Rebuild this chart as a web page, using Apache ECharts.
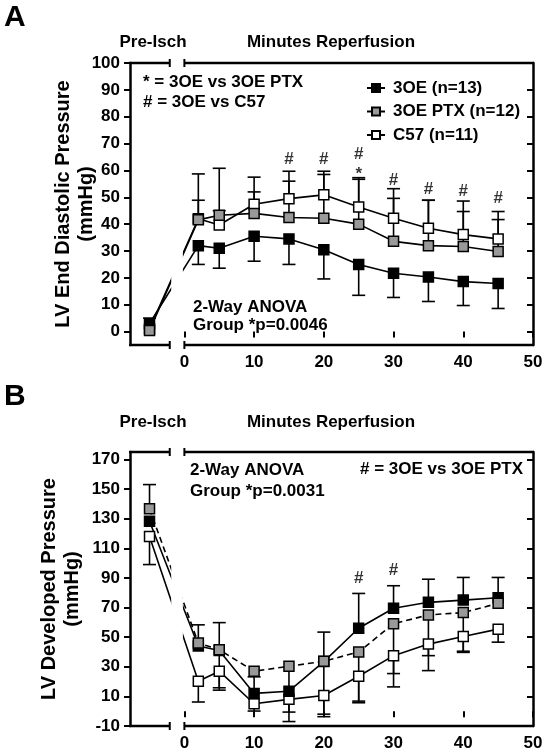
<!DOCTYPE html>
<html><head><meta charset="utf-8">
<script src="https://cdn.jsdelivr.net/npm/echarts@6/dist/echarts.min.js"></script>
<style>html,body{margin:0;padding:0;background:#fff}#c{width:548px;height:755px}</style>
</head><body><div id="c"></div>
<script>
// ---------- data ----------
// x positions: the Pre-Isch baseline is plotted at -5, then minutes of reperfusion
const timePoints = [-5, 2, 5, 10, 15, 20, 25, 30, 35, 40, 45];
const xTickVals = [0, 10, 20, 30, 40, 50];
const xTopTicks = [10, 20, 30, 40];

// Panel A: LV End Diastolic Pressure (mmHg)
const seriesNames = ['3OE (n=13)', '3OE PTX (n=12)', 'C57 (n=11)'];
const edp3OE    = [3, 32, 31, 35.5, 34.5, 30.5, 25, 21.7, 20.3, 18.6, 17.9];
const edp3OEPTX = [0.4, 41.6, 43.3, 44, 42.5, 42.2, 40, 33.6, 32, 31.7, 29.8];
const edpC57    = [1, 42, 39.7, 47.4, 49.5, 50.9, 46.4, 42.2, 38.5, 36.1, 34.5];
const edp3OELow     = [null, 25, 23.6, 26.2, 25, 19.6, 13.5, 12.7, 11.2, 9.7, 8.6];
const edp3OEHigh    = [5, null, null, null, null, null, null, null, null, null, null];
const edp3OEPTXHigh = [null, 58.7, 60.8, 57.5, 56.0, 58.5, 56.7, 49.6, 48.9, 44.7, 41.7];
const edpC57High    = [null, 48.9, 45, 52, 59.7, 59.7, 57.3, 53.2, 48.9, 48.6, 44.7];
const edpTicks = [0, 10, 20, 30, 40, 50, 60, 70, 80, 90, 100];
const edpAnnotX = [15, 20, 25, 25, 30, 35, 40, 45];
const edpAnnotY = [64, 64, 66, 58.4, 56.3, 53, 52.3, 49.5];
const edpAnnotT = ['#', '#', '#', '*', '#', '#', '#', '#'];

// Panel B: LV Developed Pressure (mmHg)
const dp3OE    = [128.3, 44, 41, 12, 13.5, 33.5, 56, 69.5, 73.5, 75, 76.6];
const dp3OEPTX = [136.6, 46, 41.5, 27, 30.3, 33.7, 40, 59, 65, 66.6, 72.8];
const dpC57    = [118, 20.2, 27, 5, 8, 10.6, 23.6, 37.5, 45.3, 50.4, 55.4];
const dp3OEHigh    = [null, 58.3, 59.8, 23.2, null, 53.4, 79.5, 84.7, 89.1, 90.3, 90.3];
const dp3OEPTXHigh = [153, null, null, null, null, null, null, null, null, null, null];
const dp3OEPTXLow  = [null, null, 15.8, null, -0.6, -3.7, 6.8, 25.4, 37.5, 40.5, null];
const dpC57Low     = [99, 6.2, 14.2, 0.1, -7, -2, 5.7, 16.4, 27.4, 39.7, 46.6];
const dpTicks = [-10, 10, 30, 50, 70, 90, 110, 130, 150, 170];
const dpAnnotX = [25, 30];
const dpAnnotY = [89.6, 95.2];
const dpAnnotT = ['#', '#'];

// ---------- layout / style ----------
const FONT = '"Liberation Sans", Arial, Helvetica, sans-serif';
const X_MIN = -7.8, X_MAX = 50;
const BREAK = [-2.1, 0];
const BLACK = '#000', GRAY = '#999', WHITE = '#fff';

const panels = [
  { top: 63, height: 282, yMin: -5, yMax: 100, yTicks: edpTicks,
    series: [
      { name: seriesNames[2], vals: edpC57, fill: WHITE, low: null, high: edpC57High, dash: 'solid' },
      { name: seriesNames[0], vals: edp3OE, fill: BLACK, low: edp3OELow, high: edp3OEHigh, dash: 'solid' },
      { name: seriesNames[1], vals: edp3OEPTX, fill: GRAY, low: null, high: edp3OEPTXHigh, dash: 'solid' }
    ],
    annot: [edpAnnotX, edpAnnotY, edpAnnotT] },
  { top: 452, height: 274, yMin: -10, yMax: 175, yTicks: dpTicks,
    series: [
      { name: 'B ' + seriesNames[2], vals: dpC57, fill: WHITE, low: dpC57Low, high: null, dash: 'solid' },
      { name: 'B ' + seriesNames[0], vals: dp3OE, fill: BLACK, low: null, high: dp3OEHigh, dash: 'solid' },
      { name: 'B ' + seriesNames[1], vals: dp3OEPTX, fill: GRAY, low: dp3OEPTXLow, high: dp3OEPTXHigh, dash: [6, 4] }
    ],
    annot: [dpAnnotX, dpAnnotY, dpAnnotT] }
];

const labelStyle = { color: BLACK, fontFamily: FONT, fontSize: 17, fontWeight: 'bold' };
const grids = [], xAxes = [], yAxes = [], series = [];

panels.forEach((p, g) => {
  grids.push({ left: 130, width: 403, top: p.top, height: p.height });
  xAxes.push({ type: 'value', gridIndex: g, position: 'bottom', min: X_MIN, max: X_MAX,
    splitLine: { show: false }, axisLine: { show: false },
    axisTick: { show: true, customValues: xTickVals, length: 6, lineStyle: { color: BLACK, width: 2 } },
    axisLabel: Object.assign({ customValues: xTickVals, margin: 9 }, labelStyle) });
  xAxes.push({ type: 'value', gridIndex: g, position: 'top', min: X_MIN, max: X_MAX,
    splitLine: { show: false }, axisLine: { show: false },
    axisTick: { show: true, inside: true, customValues: xTopTicks, length: 6, lineStyle: { color: BLACK, width: 2 } },
    axisLabel: { show: false } });
  yAxes.push({ type: 'value', gridIndex: g, position: 'left', min: p.yMin, max: p.yMax,
    splitLine: { show: false },
    axisLine: { show: true, onZero: false, lineStyle: { color: BLACK, width: 2.5 } },
    axisTick: { show: true, customValues: p.yTicks, length: 6, lineStyle: { color: BLACK, width: 2 } },
    axisLabel: Object.assign({ customValues: p.yTicks, margin: 10 }, labelStyle) });
  yAxes.push({ type: 'value', gridIndex: g, position: 'right', min: p.yMin, max: p.yMax,
    splitLine: { show: false },
    axisLine: { show: true, onZero: false, lineStyle: { color: BLACK, width: 2.5 } },
    axisTick: { show: true, inside: true, customValues: p.yTicks, length: 6, lineStyle: { color: BLACK, width: 2 } },
    axisLabel: { show: false } });

  const xi = 2 * g, yi = 2 * g;

  // error bars: [x, mean, capValue]
  const errData = [];
  p.series.forEach(s => {
    timePoints.forEach((t, i) => {
      if (s.high && s.high[i] != null) errData.push([t, s.vals[i], s.high[i]]);
      if (s.low && s.low[i] != null) errData.push([t, s.vals[i], s.low[i]]);
    });
  });
  series.push({ type: 'custom', xAxisIndex: xi, yAxisIndex: yi, z: 1, silent: true, animation: false,
    encode: { x: 0, y: [1, 2] }, data: errData,
    renderItem: (params, api) => {
      const a = api.coord([api.value(0), api.value(1)]);
      const b = api.coord([api.value(0), api.value(2)]);
      const st = { stroke: BLACK, lineWidth: 1.6 };
      return { type: 'group', children: [
        { type: 'line', shape: { x1: a[0], y1: a[1], x2: b[0], y2: b[1] }, style: st },
        { type: 'line', shape: { x1: b[0] - 6.5, y1: b[1], x2: b[0] + 6.5, y2: b[1] }, style: st }
      ] };
    } });

  // data lines + markers
  p.series.forEach(s => {
    series.push({ type: 'line', name: s.name, xAxisIndex: xi, yAxisIndex: yi, z: 2,
      data: timePoints.map((t, i) => [t, s.vals[i]]),
      symbol: 'rect', symbolSize: 10, showSymbol: true, animation: false,
      lineStyle: { color: BLACK, width: 1.6, type: s.dash },
      itemStyle: { color: s.fill, borderColor: BLACK, borderWidth: 1.5 },
      emphasis: { disabled: true } });
  });

  // break gap in the lines and frame
  series.push({ type: 'custom', xAxisIndex: xi, yAxisIndex: yi, z: 3, silent: true, animation: false,
    data: [[BREAK[0], p.yMin, BREAK[1], p.yMax]],
    renderItem: (params, api) => {
      const a = api.coord([api.value(0), api.value(3)]);
      const b = api.coord([api.value(2), api.value(1)]);
      return { type: 'rect', shape: { x: a[0] + 1.5, y: a[1] + 2, width: b[0] - a[0] - 3, height: b[1] - a[1] - 4 },
        style: { fill: WHITE } };
    } });

  // broken frame (bottom and top axis lines)
  series.push({ type: 'custom', xAxisIndex: xi, yAxisIndex: yi, z: 4, silent: true, animation: false,
    data: [[X_MIN, p.yMin, X_MAX, p.yMax]],
    renderItem: (params, api) => {
      const st = { stroke: BLACK, lineWidth: 2.5 };
      const kids = [];
      [api.value(1), api.value(3)].forEach(yv => {
        const l0 = api.coord([api.value(0), yv]), l1 = api.coord([BREAK[0], yv]);
        const r0 = api.coord([BREAK[1], yv]), r1 = api.coord([api.value(2), yv]);
        kids.push({ type: 'line', shape: { x1: l0[0] - 1, y1: l0[1], x2: l1[0], y2: l1[1] }, style: st });
        kids.push({ type: 'line', shape: { x1: r0[0], y1: r0[1], x2: r1[0] + 1, y2: r1[1] }, style: st });
        [l1, r0].forEach(q => kids.push({ type: 'line', shape: { x1: q[0], y1: q[1] - 4, x2: q[0], y2: q[1] + 4 },
          style: { stroke: BLACK, lineWidth: 2 } }));
      });
      return { type: 'group', children: kids };
    } });

  // significance marks
  const [ax, ay, at] = p.annot;
  series.push({ type: 'scatter', xAxisIndex: xi, yAxisIndex: yi, z: 5, silent: true, animation: false,
    symbolSize: 1, itemStyle: { color: 'rgba(0,0,0,0)' },
    data: ax.map((x, i) => ({ value: [x, ay[i]], label: { formatter: at[i] } })),
    label: { show: true, position: 'inside', color: BLACK, fontFamily: FONT, fontSize: 17, fontWeight: 'bold' } });
});

function txt(text, x, y, size, align, rot) {
  return { type: 'text', x: x, y: y, z: 100, rotation: rot || 0, silent: true,
    style: { text: text, fill: BLACK, font: 'bold ' + size + 'px ' + FONT, align: align || 'left', verticalAlign: 'middle' } };
}
const R = Math.PI / 2;
const graphics = [
  txt('A', 4, 18, 30),
  txt('Pre-Isch', 153, 42, 17, 'center'),
  txt('Minutes Reperfusion', 331, 42, 17, 'center'),
  txt('* = 3OE vs 3OE PTX', 143, 82, 17),
  txt('# = 3OE vs C57', 143, 102, 17),
  txt('2-Way ANOVA', 193, 307, 17),
  txt('Group *p=0.0046', 193, 325, 17),
  txt('LV End Diastolic Pressure', 63, 204, 20, 'center', R),
  txt('(mmHg)', 86, 204, 20, 'center', R),
  txt('B', 4, 397, 30),
  txt('Pre-Isch', 153, 422, 17, 'center'),
  txt('Minutes Reperfusion', 331, 422, 17, 'center'),
  txt('2-Way ANOVA', 190, 470, 17),
  txt('Group *p=0.0031', 190, 491, 17),
  txt('# = 3OE vs 3OE PTX', 523, 469, 17, 'right'),
  txt('LV Developed Pressure', 49, 589, 20, 'center', R),
  txt('(mmHg)', 72, 589, 20, 'center', R)
];

const chart = echarts.init(document.getElementById('c'), null, { renderer: 'canvas' });
chart.setOption({
  backgroundColor: '#fff',
  animation: false,
  grid: grids, xAxis: xAxes, yAxis: yAxes, series: series,
  legend: { data: seriesNames, orient: 'vertical', left: 361, top: 74.5, selectedMode: false, z: 100,
    itemWidth: 18, itemHeight: 10, itemGap: 6.5,
    textStyle: { color: BLACK, fontFamily: FONT, fontSize: 17, fontWeight: 'bold', lineHeight: 17, padding: [0, 0, 0, 3] } },
  graphic: { elements: graphics, z: 100 }
});
</script></body></html>
